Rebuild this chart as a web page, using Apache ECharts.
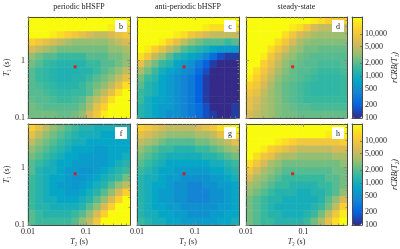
<!DOCTYPE html>
<html>
<head>
<meta charset="utf-8">
<script src="https://cdn.jsdelivr.net/npm/echarts@6/dist/echarts.min.js"></script>
<style>
html, body { margin: 0; padding: 0; background: #fff; }
#chart { width: 400px; height: 249px; }
</style>
</head>
<body>
<div id="chart"></div>
<script>
// log10(rCRB), rows from high T1 (top) to low T1 (bottom),
// columns from low T2 (left) to high T2 (right)
var periodicT1 = [
    [4.4,4.4,4.4,4.4,4.4,4.4,4.4,4.4,4.4,4.4,4.4,4.4,4.4,4.4],
    [4.4,4.4,4.4,4.4,4.4,4.4,4.4,4.4,4.4,4.4,4.4,4.3,4.2,4.2],
    [4.4,4.4,4.4,4.3,4.2,4.1,4.0,3.9,3.8,3.7,3.7,3.8,3.9,4.0],
    [4.1,4.0,3.9,3.8,3.7,3.6,3.5,3.5,3.5,3.5,3.5,3.6,3.7,3.8],
    [3.8,3.7,3.6,3.5,3.4,3.4,3.4,3.4,3.4,3.4,3.4,3.5,3.5,3.6],
    [3.5,3.4,3.3,3.3,3.2,3.2,3.2,3.2,3.3,3.3,3.3,3.4,3.4,3.5],
    [3.4,3.3,3.2,3.15,3.1,3.1,3.1,3.1,3.2,3.2,3.3,3.3,3.4,3.5],
    [3.3,3.2,3.15,3.1,3.05,3.05,3.05,3.1,3.1,3.2,3.3,3.4,3.5,3.7],
    [3.3,3.2,3.15,3.1,3.05,3.05,3.1,3.1,3.2,3.3,3.4,3.5,3.7,3.9],
    [3.3,3.25,3.2,3.15,3.1,3.1,3.1,3.2,3.3,3.4,3.5,3.7,3.9,4.2],
    [3.3,3.3,3.25,3.2,3.15,3.15,3.2,3.2,3.3,3.5,3.7,3.9,4.2,4.4],
    [3.35,3.3,3.3,3.25,3.2,3.2,3.25,3.3,3.5,3.7,3.9,4.2,4.4,4.4],
    [3.4,3.35,3.3,3.3,3.3,3.3,3.3,3.4,3.6,3.9,4.1,4.4,4.4,4.4],
    [3.4,3.4,3.4,3.4,3.35,3.35,3.4,3.5,3.8,4.0,4.3,4.4,4.4,4.4]
];
var antiPeriodicT1 = [
    [4.4,4.4,4.4,4.4,4.4,4.4,4.4,4.4,4.4,4.4,4.4,4.4,4.4,4.4],
    [4.4,4.4,4.4,4.4,4.4,4.4,4.4,4.4,4.4,4.3,4.2,4.2,4.2,4.2],
    [4.4,4.4,4.4,4.4,4.4,4.3,4.2,4.0,3.9,3.8,3.7,3.7,3.7,3.7],
    [4.4,4.4,4.4,4.3,4.1,3.9,3.7,3.5,3.4,3.3,3.3,3.3,3.2,3.3],
    [4.4,4.3,4.1,3.9,3.7,3.5,3.3,3.2,3.1,3.0,2.9,2.8,2.8,2.8],
    [4.2,4.0,3.7,3.5,3.3,3.1,3.0,2.9,2.8,2.6,2.4,2.2,2.1,2.1],
    [3.9,3.6,3.4,3.2,3.1,2.9,2.8,2.7,2.5,2.3,2.1,2.0,2.0,2.0],
    [3.6,3.4,3.2,3.0,2.9,2.8,2.7,2.6,2.4,2.2,2.0,2.0,2.0,2.0],
    [3.4,3.2,3.1,2.9,2.8,2.7,2.6,2.5,2.3,2.1,2.0,2.0,2.0,2.0],
    [3.3,3.1,3.0,2.9,2.8,2.7,2.6,2.5,2.3,2.1,2.0,2.0,2.0,2.0],
    [3.2,3.1,3.0,2.9,2.8,2.7,2.6,2.5,2.3,2.1,2.0,2.0,2.0,2.0],
    [3.2,3.0,2.9,2.9,2.8,2.7,2.6,2.5,2.3,2.1,2.0,2.0,2.0,2.0],
    [3.1,3.0,2.9,2.8,2.8,2.7,2.6,2.5,2.4,2.2,2.0,2.0,2.0,2.1],
    [3.1,3.0,2.9,2.8,2.7,2.7,2.6,2.5,2.4,2.2,2.1,2.0,2.0,2.1]
];
var steadyT1 = [
    [4.4,4.4,4.4,4.4,4.4,4.4,4.4,4.4,4.4,4.3,4.2,4.1,4.1,4.1],
    [4.4,4.4,4.4,4.4,4.4,4.4,4.3,4.2,4.0,3.8,3.7,3.7,3.7,3.7],
    [4.4,4.4,4.4,4.4,4.4,4.2,4.0,3.8,3.7,3.6,3.55,3.55,3.55,3.55],
    [4.4,4.4,4.4,4.4,4.2,4.0,3.8,3.6,3.5,3.45,3.45,3.45,3.45,3.45],
    [4.4,4.4,4.4,4.2,4.0,3.8,3.6,3.5,3.4,3.4,3.35,3.35,3.35,3.35],
    [4.4,4.4,4.3,4.0,3.8,3.6,3.5,3.4,3.35,3.3,3.3,3.3,3.3,3.3],
    [4.4,4.4,4.1,3.9,3.7,3.5,3.4,3.35,3.3,3.3,3.25,3.25,3.25,3.3],
    [4.4,4.2,4.0,3.8,3.6,3.45,3.35,3.3,3.3,3.25,3.2,3.2,3.2,3.25],
    [4.3,4.1,3.9,3.7,3.5,3.4,3.35,3.3,3.25,3.2,3.15,3.15,3.15,3.2],
    [4.1,4.0,3.8,3.6,3.45,3.35,3.3,3.25,3.2,3.15,3.15,3.15,3.15,3.2],
    [4.0,3.9,3.7,3.55,3.45,3.35,3.3,3.25,3.2,3.15,3.15,3.15,3.15,3.2],
    [3.9,3.8,3.65,3.55,3.45,3.35,3.3,3.25,3.2,3.2,3.2,3.2,3.2,3.2],
    [3.9,3.75,3.65,3.55,3.45,3.4,3.35,3.3,3.3,3.25,3.25,3.25,3.25,3.25],
    [3.8,3.7,3.6,3.55,3.45,3.4,3.4,3.35,3.35,3.35,3.35,3.35,3.35,3.35]
];
var periodicT2 = [
    [4.1,3.9,3.7,3.5,3.4,3.3,3.2,3.1,3.1,3.0,3.0,3.0,3.0,3.0],
    [3.9,3.7,3.5,3.4,3.3,3.2,3.1,3.0,3.0,3.0,2.9,2.9,2.9,3.0],
    [3.7,3.5,3.4,3.3,3.2,3.1,3.0,3.0,2.9,2.9,2.9,2.9,2.9,2.9],
    [3.5,3.4,3.3,3.2,3.1,3.0,2.9,2.9,2.9,2.8,2.8,2.9,2.9,2.9],
    [3.4,3.3,3.2,3.1,3.0,2.9,2.9,2.8,2.8,2.8,2.8,2.9,2.9,3.0],
    [3.3,3.2,3.1,3.0,2.9,2.9,2.8,2.8,2.8,2.8,2.8,2.9,3.0,3.1],
    [3.3,3.1,3.0,3.0,2.9,2.8,2.8,2.75,2.75,2.8,2.9,3.0,3.1,3.2],
    [3.2,3.1,3.0,2.9,2.9,2.8,2.75,2.75,2.8,2.9,3.0,3.1,3.2,3.4],
    [3.2,3.1,3.0,2.9,2.8,2.8,2.75,2.8,2.9,3.0,3.1,3.3,3.5,3.7],
    [3.2,3.1,3.0,2.9,2.9,2.8,2.8,2.9,3.0,3.1,3.3,3.5,3.8,4.1],
    [3.2,3.1,3.0,3.0,2.9,2.9,2.9,3.0,3.1,3.3,3.5,3.8,4.1,4.4],
    [3.2,3.1,3.1,3.0,3.0,3.0,3.0,3.1,3.3,3.5,3.8,4.1,4.4,4.4],
    [3.3,3.2,3.1,3.1,3.1,3.1,3.2,3.3,3.5,3.8,4.1,4.4,4.4,4.4],
    [3.3,3.2,3.2,3.2,3.2,3.2,3.3,3.5,3.7,4.0,4.4,4.4,4.4,4.4]
];
var antiPeriodicT2 = [
    [4.1,4.0,3.9,3.8,3.7,3.7,3.7,3.7,3.8,3.9,4.0,4.2,4.3,4.4],
    [3.9,3.8,3.7,3.6,3.5,3.5,3.5,3.5,3.6,3.6,3.7,3.9,4.0,4.2],
    [3.7,3.6,3.5,3.4,3.3,3.3,3.3,3.3,3.4,3.4,3.5,3.6,3.7,3.9],
    [3.5,3.4,3.3,3.2,3.2,3.1,3.1,3.1,3.2,3.2,3.3,3.4,3.5,3.6],
    [3.4,3.3,3.2,3.1,3.0,3.0,3.0,3.0,3.0,3.1,3.1,3.2,3.3,3.4],
    [3.3,3.2,3.1,3.0,2.9,2.9,2.9,2.9,2.9,2.9,3.0,3.0,3.1,3.2],
    [3.2,3.1,3.0,2.9,2.9,2.8,2.8,2.8,2.8,2.8,2.9,2.9,3.0,3.1],
    [3.1,3.0,3.0,2.9,2.8,2.8,2.7,2.7,2.7,2.7,2.8,2.8,2.9,3.0],
    [3.1,3.0,2.9,2.9,2.8,2.7,2.7,2.6,2.6,2.7,2.7,2.8,2.8,2.9],
    [3.1,3.0,2.9,2.8,2.8,2.7,2.7,2.6,2.6,2.6,2.7,2.7,2.8,2.9],
    [3.1,3.0,2.9,2.8,2.8,2.7,2.7,2.6,2.6,2.6,2.7,2.7,2.8,2.9],
    [3.1,3.0,2.9,2.9,2.8,2.8,2.7,2.7,2.7,2.7,2.7,2.8,2.8,2.9],
    [3.1,3.0,3.0,2.9,2.9,2.8,2.8,2.7,2.7,2.7,2.8,2.8,2.9,2.9],
    [3.2,3.1,3.0,3.0,2.9,2.9,2.8,2.8,2.8,2.8,2.8,2.9,2.9,3.0]
];
var steadyT2 = [
    [4.4,4.4,4.4,4.4,4.4,4.4,4.4,4.4,4.4,4.4,4.4,4.4,4.4,4.4],
    [4.4,4.4,4.4,4.4,4.4,4.4,4.4,4.4,4.4,4.4,4.4,4.3,4.3,4.3],
    [4.4,4.4,4.4,4.4,4.3,4.2,4.1,4.0,4.0,4.0,4.0,4.0,4.0,4.1],
    [4.4,4.4,4.3,4.1,4.0,3.9,3.8,3.7,3.7,3.7,3.7,3.7,3.8,3.8],
    [4.4,4.2,4.0,3.9,3.7,3.6,3.6,3.5,3.5,3.5,3.5,3.5,3.6,3.6],
    [4.2,4.0,3.8,3.6,3.5,3.4,3.4,3.4,3.4,3.4,3.4,3.4,3.4,3.5],
    [4.0,3.8,3.6,3.5,3.4,3.3,3.3,3.3,3.3,3.3,3.3,3.3,3.4,3.4],
    [3.8,3.6,3.5,3.4,3.3,3.2,3.2,3.2,3.2,3.2,3.2,3.3,3.3,3.4],
    [3.6,3.5,3.4,3.3,3.2,3.2,3.1,3.1,3.1,3.1,3.2,3.2,3.3,3.4],
    [3.5,3.4,3.3,3.2,3.1,3.1,3.1,3.0,3.0,3.1,3.1,3.2,3.3,3.5],
    [3.4,3.3,3.2,3.1,3.1,3.0,3.0,3.0,3.0,3.0,3.1,3.3,3.5,3.8],
    [3.4,3.3,3.2,3.1,3.0,3.0,3.0,3.0,3.0,3.1,3.2,3.4,3.7,4.1],
    [3.4,3.3,3.2,3.1,3.1,3.0,3.0,3.0,3.1,3.2,3.4,3.7,4.0,4.3],
    [3.4,3.3,3.2,3.2,3.1,3.1,3.1,3.1,3.2,3.4,3.6,3.9,4.2,4.4]
];

var t2Range = [0.01, 0.575];       // s
var t1Range = [0.1, 5.75];         // s
var crbRange = [100, 25000];
var t2Labels = [0.01, 0.1];
var t1Labels = [0.1, 1];
var crbLabels = [100, 200, 500, 1000, 2000, 5000, 10000];
var truth = [0.065, 0.781];        // [T2, T1] of the simulated tissue

var columnTitles = ['periodic bHSFP', 'anti-periodic bHSFP', 'steady-state'];
var panelLetters = [['b', 'c', 'd'], ['f', 'g', 'h']];
var colorbarNames = ['rCRB(T\u2081)', 'rCRB(T\u2082)'];
var maps = [[periodicT1, antiPeriodicT1, steadyT1], [periodicT2, antiPeriodicT2, steadyT2]];

var parula = ['#352a87', '#0363e1', '#1485d4', '#06a7c6', '#38b99e',
              '#92bf73', '#d9ba56', '#fcce2e', '#f9fb0e'];

var serif = "'Liberation Serif', 'DejaVu Serif', serif";
var lefts = [28, 137, 246], widths = [102, 102, 101];
var tops = [17, 124], H = 101;
var lg = Math.log10;

var option = {
    animation: false,
    backgroundColor: '#fff',
    grid: [], xAxis: [], yAxis: [], series: [], visualMap: [], graphic: []
};

function logTicks(range, major) {
    var out = [];
    for (var d = Math.floor(lg(range[0])); d <= Math.ceil(lg(range[1])); d++) {
        for (var k = 1; k <= 9; k++) {
            if ((k === 1) !== major) continue;
            var v = k * Math.pow(10, d);
            if (v >= range[0] * 0.999 && v <= range[1] * 1.001) out.push(lg(v));
        }
    }
    return out;
}

function indices(n) {
    var a = [];
    for (var i = 0; i < n; i++) a.push(i);
    return a;
}

function fmt(v) {
    return String(+Math.pow(10, v).toPrecision(3));
}

function valueAxis(gi, pos, range, major, labels, name) {
    return {
        type: 'value', gridIndex: gi, position: pos,
        min: lg(range[0]), max: lg(range[1]),
        axisLine: { show: major, onZero: false, lineStyle: { color: '#4a4a4a', width: 1 } },
        splitLine: { show: false },
        axisTick: {
            show: true, inside: true, length: major ? 3 : 1.5,
            customValues: logTicks(range, major),
            lineStyle: { color: '#888', width: 0.8 }
        },
        axisLabel: {
            show: !!labels, customValues: labels ? labels.map(lg) : [],
            formatter: fmt, margin: 3, fontSize: 8, fontFamily: serif, color: '#222'
        },
        name: name || '', nameLocation: 'middle',
        nameGap: pos === 'left' ? 16 : 13,
        nameTextStyle: {
            fontSize: 8, fontFamily: serif, color: '#222',
            rich: { i: { fontStyle: 'italic', fontSize: 8, fontFamily: serif, color: '#222' },
                    n: { fontSize: 8, fontFamily: serif, color: '#222' } }
        },
        z: 5
    };
}

function addPanel(r, c) {
    var rows = maps[r][c];
    var gi = option.grid.length;
    option.grid.push({ left: lefts[c], top: tops[r], width: widths[c], height: H });

    var cx = option.xAxis.length;
    option.xAxis.push({ type: 'category', gridIndex: gi, show: false, data: indices(rows[0].length) });
    var cy = option.yAxis.length;
    option.yAxis.push({ type: 'category', gridIndex: gi, show: false, data: indices(rows.length) });

    var data = [];
    rows.forEach(function (row, j) {
        row.forEach(function (v, i) { data.push([i, rows.length - 1 - j, v]); });
    });
    var si = option.series.length;
    option.series.push({
        type: 'heatmap', xAxisIndex: cx, yAxisIndex: cy, data: data,
        silent: true, itemStyle: { borderWidth: 0 }
    });

    var vx = option.xAxis.length;
    option.xAxis.push(valueAxis(gi, 'bottom', t2Range, true, r === 1 ? t2Labels : null,
        r === 1 ? '{i|T}{n|\u2082 (s)}' : ''));
    option.xAxis.push(valueAxis(gi, 'bottom', t2Range, false));
    option.xAxis.push(valueAxis(gi, 'top', t2Range, true));
    option.xAxis.push(valueAxis(gi, 'top', t2Range, false));
    var vy = option.yAxis.length;
    option.yAxis.push(valueAxis(gi, 'left', t1Range, true, c === 0 ? t1Labels : null,
        c === 0 ? '{i|T}{n|\u2081 (s)}' : ''));
    option.yAxis.push(valueAxis(gi, 'left', t1Range, false));
    option.yAxis.push(valueAxis(gi, 'right', t1Range, true));
    option.yAxis.push(valueAxis(gi, 'right', t1Range, false));

    option.series.push({
        type: 'scatter', xAxisIndex: vx, yAxisIndex: vy, silent: true,
        symbol: 'rect', symbolSize: 3, itemStyle: { color: '#ff0000' },
        data: [[lg(truth[0]), lg(truth[1])]], z: 6
    });

    var bx = lefts[c] + widths[c] - 15, by = tops[r] + 3;
    option.graphic.push({ type: 'rect', shape: { x: bx, y: by, width: 12, height: 12 },
        style: { fill: '#fff' }, z: 10, silent: true });
    option.graphic.push({ type: 'text', x: bx + 6, y: by + 6.5, z: 11, silent: true,
        style: { text: panelLetters[r][c], align: 'center', verticalAlign: 'middle',
                 fontSize: 8, fontFamily: serif, fill: '#222' } });
    return si;
}

function addColorbar(r, seriesIdx) {
    var gi = option.grid.length;
    option.grid.push({ left: 352, top: tops[r], width: 10, height: H });
    option.visualMap.push({
        type: 'continuous', min: lg(crbRange[0]), max: lg(crbRange[1]),
        seriesIndex: seriesIdx, left: 352, top: tops[r], padding: 0,
        itemWidth: 10, itemHeight: H, calculable: false, hoverLink: false,
        text: null, showLabel: false, inRange: { color: parula }
    });
    var frame = { lineStyle: { color: '#4a4a4a', width: 1 }, onZero: false };
    ['bottom', 'top'].forEach(function (p) {
        option.xAxis.push({ type: 'value', gridIndex: gi, position: p, min: 0, max: 1,
            axisLine: frame, axisTick: { show: false }, axisLabel: { show: false },
            splitLine: { show: false }, z: 6 });
    });
    var ticks = crbLabels.map(lg);
    option.yAxis.push({ type: 'value', gridIndex: gi, position: 'left',
        min: lg(crbRange[0]), max: lg(crbRange[1]),
        axisLine: frame, axisTick: { show: false }, axisLabel: { show: false },
        splitLine: { show: false }, z: 6 });
    option.yAxis.push({ type: 'value', gridIndex: gi, position: 'right',
        min: lg(crbRange[0]), max: lg(crbRange[1]),
        axisLine: frame, splitLine: { show: false },
        axisTick: { show: true, inside: true, length: 2, customValues: ticks,
                    lineStyle: { color: '#666', width: 0.8 } },
        axisLabel: { customValues: ticks, margin: 3, fontSize: 8, fontFamily: serif, color: '#222',
            formatter: function (v) { return Math.round(Math.pow(10, v)).toLocaleString('en-US'); } },
        name: colorbarNames[r], nameLocation: 'middle', nameGap: 29,
        nameTextStyle: { fontSize: 8, fontFamily: serif, fontStyle: 'italic', color: '#222' },
        z: 6 });
}

for (var r = 0; r < 2; r++) {
    var idx = [];
    for (var c = 0; c < 3; c++) idx.push(addPanel(r, c));
    addColorbar(r, idx);
}

columnTitles.forEach(function (t, c) {
    option.graphic.push({ type: 'text', x: lefts[c] + widths[c] / 2, y: 7, silent: true,
        style: { text: t, align: 'center', verticalAlign: 'middle',
                 fontSize: 8, fontFamily: serif, fill: '#222' } });
});

var chart = echarts.init(document.getElementById('chart'));
chart.setOption(option);
</script>
</body>
</html>
